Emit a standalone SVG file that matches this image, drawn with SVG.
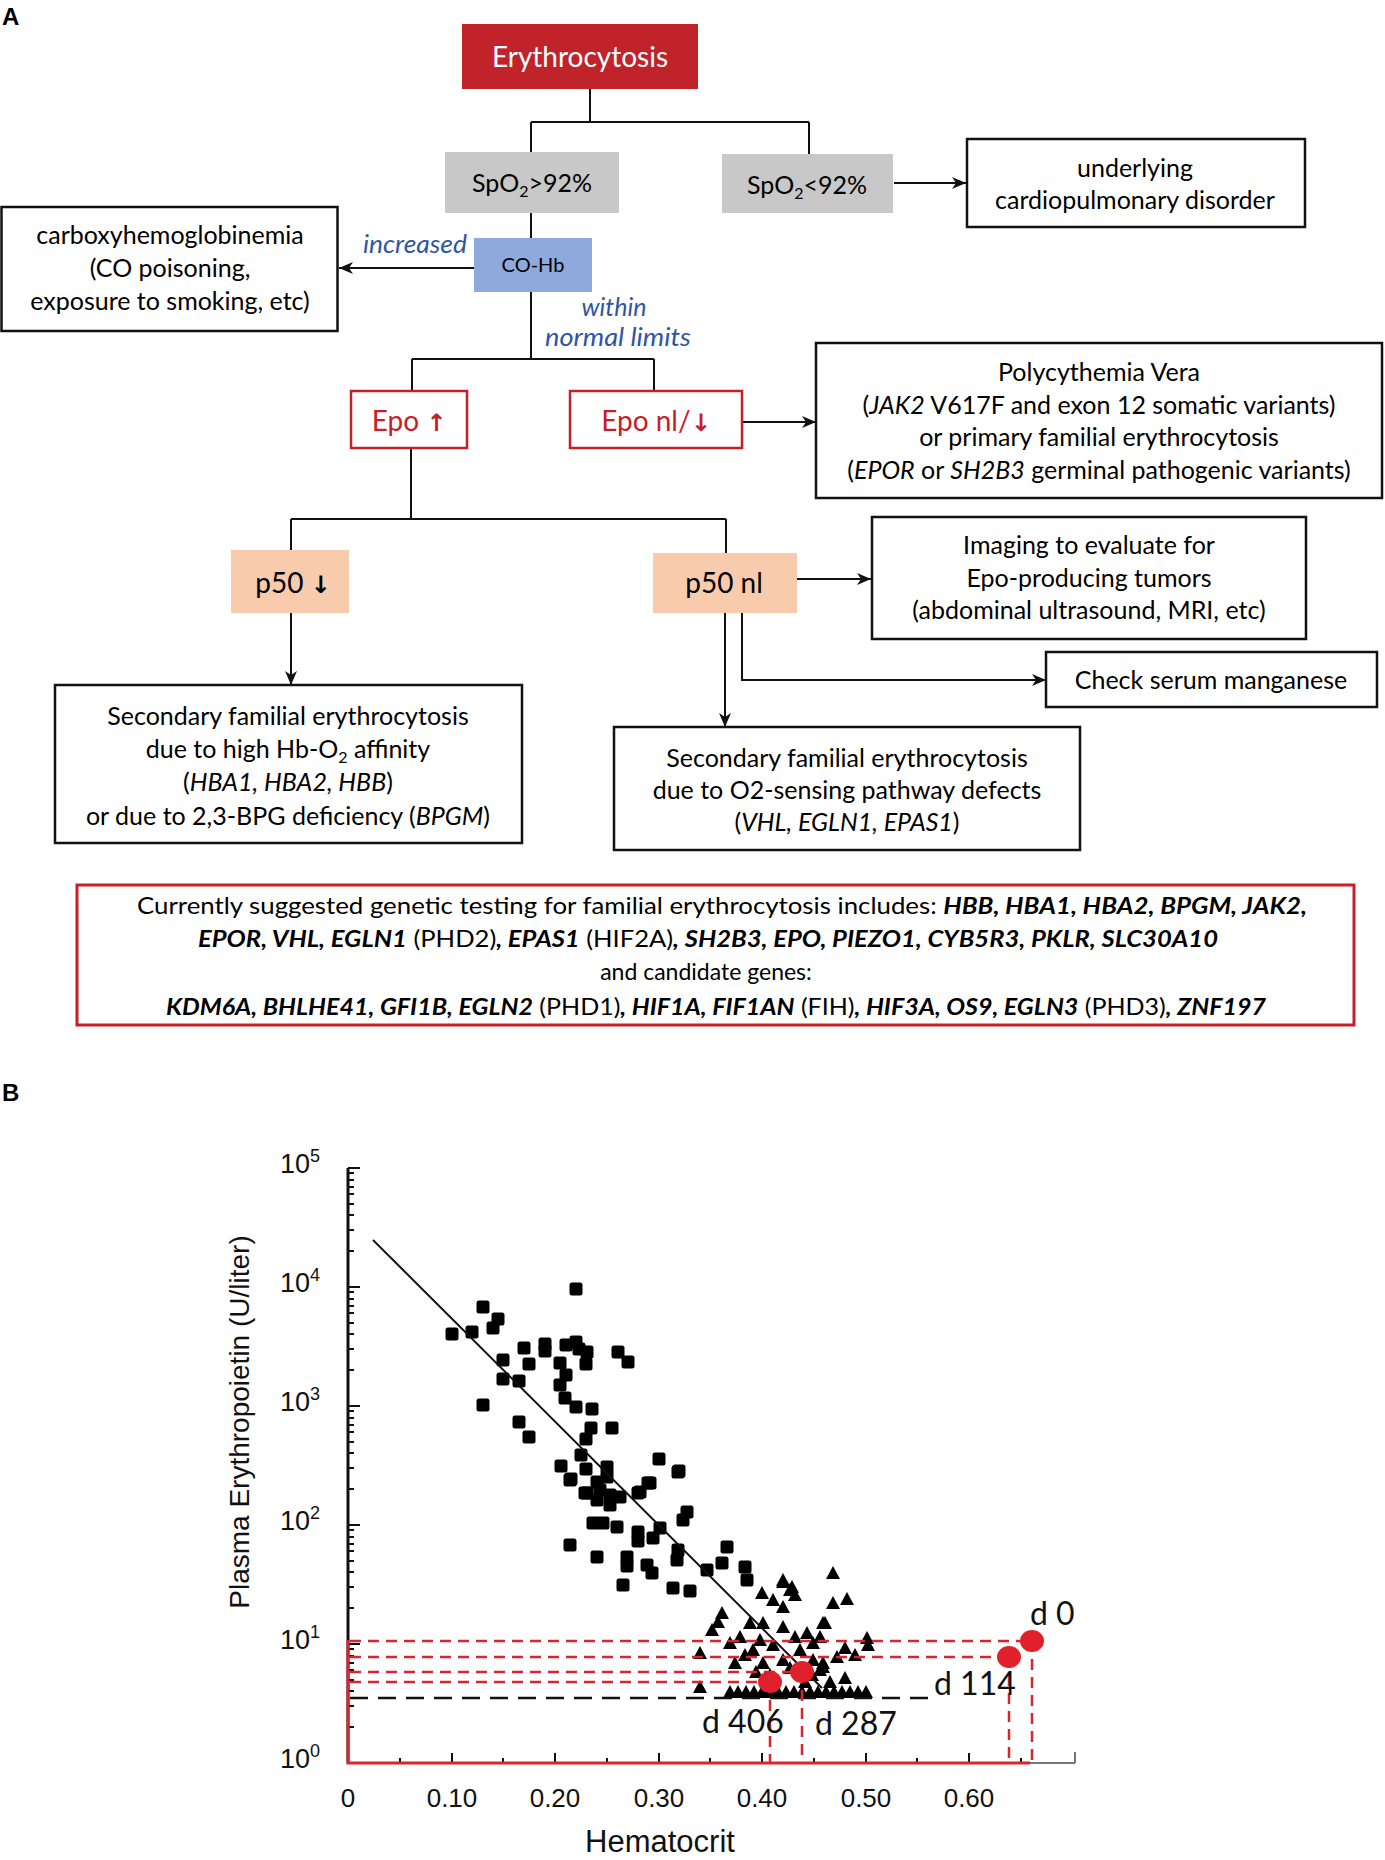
<svg xmlns="http://www.w3.org/2000/svg" xmlns:xlink="http://www.w3.org/1999/xlink" width="1385" height="1860" viewBox="0 0 1385 1860">
<style>
.t{font-family:Lato,'Open Sans','Liberation Sans',sans-serif;font-size:25px;text-anchor:middle;fill:#000}
.i{font-style:italic}
.bi{font-style:italic;font-weight:bold}
.box{fill:#fff;stroke:#111;stroke-width:2.5}
.rbox{fill:#fff;stroke:#C5202A;stroke-width:2.5}
.con{fill:none;stroke:#111;stroke-width:2}
.lab{font-family:Lato,'Open Sans','Liberation Sans',sans-serif;font-style:italic;font-size:25px;fill:#2F55A4;text-anchor:middle}
.ax{font-family:'Liberation Sans',Arial,sans-serif;fill:#111}
.rd{stroke:#D9262E;stroke-width:2.5;stroke-dasharray:11 7;fill:none}
.pl{font-family:Lato,'Open Sans','Liberation Sans',sans-serif;font-size:32px;fill:#111}
.hd{font-family:'Liberation Sans',Arial,sans-serif;font-weight:bold;font-size:24px;fill:#000}
.arr{font-family:'DejaVu Sans',sans-serif;font-weight:bold;font-size:24px}
</style>
<defs>
<marker id="ah" markerWidth="14" markerHeight="12" refX="14" refY="6" orient="auto" markerUnits="userSpaceOnUse"><path d="M0,0 L14,6 L0,12 L4,6 z" fill="#111"/></marker>
<rect id="sq" x="-6.5" y="-6.5" width="13" height="13" rx="2.5" fill="#000"/>
<path id="tr" d="M0,-7 L7,6 L-7,6 z" fill="#000"/>
</defs>
<rect width="1385" height="1860" fill="#fff"/>

<text class="hd" x="2" y="25">A</text>
<text class="hd" x="2" y="1101">B</text>

<g id="connectors">
<path class="con" d="M590,89 V122 M531,122 H809 M531,122 V152 M809,122 V154"/>
<path class="con" d="M894,183 H966" marker-end="url(#ah)"/>
<path class="con" d="M531,213 V238"/>
<path class="con" d="M474,268 H339" marker-end="url(#ah)"/>
<path class="con" d="M531,292 V359 M412,359 H654 M412,359 V391 M654,359 V391"/>
<path class="con" d="M742,422 H816" marker-end="url(#ah)"/>
<path class="con" d="M411,448 V519 M291,519 H726 M291,519 V550 M726,519 V553"/>
<path class="con" d="M291,613 V685" marker-end="url(#ah)"/>
<path class="con" d="M797,579 H871" marker-end="url(#ah)"/>
<path class="con" d="M742,613 V680 H1046" marker-end="url(#ah)"/>
<path class="con" d="M725,613 V727" marker-end="url(#ah)"/>
</g>

<g id="n-erythrocytosis">
<rect x="462" y="24" width="236" height="65" fill="#C1232B"/>
<text class="t" x="580" y="67" style="font-size:28px;fill:#fff">Erythrocytosis</text>
</g>
<g id="n-spo2-high">
<rect x="445" y="152" width="174" height="61" fill="#C8C8C8"/>
<text class="t" x="532" y="192" style="font-size:25px">SpO<tspan font-size="16" dy="5">2</tspan><tspan dy="-5">&gt;92%</tspan></text>
</g>
<g id="n-spo2-low">
<rect x="722" y="154" width="171" height="59" fill="#C8C8C8"/>
<text class="t" x="807" y="194" style="font-size:25px">SpO<tspan font-size="16" dy="5">2</tspan><tspan dy="-5">&lt;92%</tspan></text>
</g>
<g id="n-cardio">
<rect class="box" x="967" y="139" width="338" height="88"/>
<text class="t" x="1135" y="177">underlying</text>
<text class="t" x="1135" y="209">cardiopulmonary disorder</text>
</g>
<g id="n-cohb">
<rect x="474" y="238" width="118" height="54" fill="#8EAADC"/>
<text class="t" x="533" y="272" style="font-size:20px">CO-Hb</text>
</g>
<g id="n-carboxy">
<rect class="box" x="1.5" y="207" width="336" height="124"/>
<text class="t" x="170" y="244">carboxyhemoglobinemia</text>
<text class="t" x="170" y="277">(CO poisoning,</text>
<text class="t" x="170" y="310">exposure to smoking, etc)</text>
</g>
<text class="lab" x="415" y="253" textLength="104" lengthAdjust="spacingAndGlyphs">increased</text>
<text class="lab" x="614" y="316">within</text>
<text class="lab" x="618" y="346" textLength="146" lengthAdjust="spacingAndGlyphs">normal limits</text>
<g id="n-epo-up">
<rect class="rbox" x="351" y="391" width="116" height="57"/>
<text class="t" x="409" y="431" style="font-size:28px;fill:#C5202A">Epo <tspan class="arr">↑</tspan></text>
</g>
<g id="n-epo-nl">
<rect class="rbox" x="570" y="391" width="172" height="57"/>
<text class="t" x="656" y="431" style="font-size:28px;fill:#C5202A">Epo nl/<tspan class="arr">↓</tspan></text>
</g>
<g id="n-pv">
<rect class="box" x="816" y="343" width="566" height="155"/>
<text class="t" x="1099" y="381">Polycythemia Vera</text>
<text class="t" x="1099" y="414">(<tspan class="i">JAK2</tspan> V617F and exon 12 somatic variants)</text>
<text class="t" x="1099" y="446">or primary familial erythrocytosis</text>
<text class="t" x="1099" y="479">(<tspan class="i">EPOR</tspan> or <tspan class="i">SH2B3</tspan> germinal pathogenic variants)</text>
</g>
<g id="n-p50-low">
<rect x="231" y="550" width="118" height="63" fill="#F8CBAD"/>
<text class="t" x="293" y="593" style="font-size:28px">p50 <tspan class="arr">↓</tspan></text>
</g>
<g id="n-p50-nl">
<rect x="653" y="553" width="144" height="60" fill="#F8CBAD"/>
<text class="t" x="724" y="593" style="font-size:28px">p50 nl</text>
</g>
<g id="n-imaging">
<rect class="box" x="872" y="517" width="434" height="122"/>
<text class="t" x="1089" y="554">Imaging to evaluate for</text>
<text class="t" x="1089" y="587">Epo-producing tumors</text>
<text class="t" x="1089" y="619">(abdominal ultrasound, MRI, etc)</text>
</g>
<g id="n-manganese">
<rect class="box" x="1046" y="652" width="331" height="55"/>
<text class="t" x="1211" y="689">Check serum manganese</text>
</g>
<g id="n-hb-affinity">
<rect class="box" x="55" y="685" width="467" height="158"/>
<text class="t" x="288" y="725">Secondary familial erythrocytosis</text>
<text class="t" x="288" y="758">due to high Hb-O<tspan font-size="16" dy="5">2</tspan><tspan dy="-5"> affinity</tspan></text>
<text class="t" x="288" y="791">(<tspan class="i">HBA1, HBA2, HBB</tspan>)</text>
<text class="t" x="288" y="825">or due to 2,3-BPG deficiency (<tspan class="i">BPGM</tspan>)</text>
</g>
<g id="n-o2-sensing">
<rect class="box" x="614" y="727" width="466" height="123"/>
<text class="t" x="847" y="767">Secondary familial erythrocytosis</text>
<text class="t" x="847" y="799">due to O2-sensing pathway defects</text>
<text class="t" x="847" y="831">(<tspan class="i">VHL, EGLN1, EPAS1</tspan>)</text>
</g>
<g id="n-genetic">
<rect x="77" y="885" width="1277" height="140" fill="#fff" stroke="#C5202A" stroke-width="3"/>
<text class="t" x="722" y="914" style="font-size:23px" textLength="1170" lengthAdjust="spacingAndGlyphs">Currently suggested genetic testing for familial erythrocytosis includes: <tspan class="bi">HBB, HBA1, HBA2, BPGM, JAK2,</tspan></text>
<text class="t" x="708" y="947" style="font-size:23px" textLength="1020" lengthAdjust="spacingAndGlyphs"><tspan class="bi">EPOR, VHL, EGLN1</tspan> (PHD2)<tspan class="bi">, EPAS1</tspan> (HIF2A)<tspan class="bi">, SH2B3, EPO, PIEZO1, CYB5R3, PKLR, SLC30A10</tspan></text>
<text class="t" x="706" y="980" style="font-size:23px">and candidate genes:</text>
<text class="t" x="716" y="1015" style="font-size:23px" textLength="1100" lengthAdjust="spacingAndGlyphs"><tspan class="bi">KDM6A, BHLHE41, GFI1B, EGLN2</tspan> (PHD1)<tspan class="bi">, HIF1A, FIF1AN</tspan> (FIH)<tspan class="bi">, HIF3A, OS9, EGLN3</tspan> (PHD3)<tspan class="bi">, ZNF197</tspan></text>
</g>

<!-- Panel B plot -->
<g id="plot-axes">
<line x1="348" y1="1168" x2="348" y2="1763" stroke="#111" stroke-width="3"/>
<line x1="348" y1="1763" x2="1075" y2="1763" stroke="#777" stroke-width="2"/>
<line x1="1075" y1="1763" x2="1075" y2="1752" stroke="#777" stroke-width="2"/>
<path stroke="#111" stroke-width="2" fill="none" d="M348,1168h12M348,1287h12M348,1406h12M348,1525h12M348,1644h12
M348,1727h6M348,1706h6M348,1691h6M348,1680h6M348,1670h6M348,1663h6M348,1656h6M348,1649h6
M348,1608h6M348,1587h6M348,1572h6M348,1561h6M348,1551h6M348,1544h6M348,1537h6M348,1530h6
M348,1489h6M348,1468h6M348,1453h6M348,1442h6M348,1432h6M348,1425h6M348,1418h6M348,1411h6
M348,1370h6M348,1349h6M348,1334h6M348,1323h6M348,1313h6M348,1306h6M348,1299h6M348,1292h6
M348,1251h6M348,1230h6M348,1215h6M348,1204h6M348,1194h6M348,1187h6M348,1180h6M348,1173h6"/>
<path stroke="#111" stroke-width="2" fill="none" d="M400,1763v-5M452,1763v-10M503,1763v-5M555,1763v-10M607,1763v-5M659,1763v-10M710,1763v-5M762,1763v-10M814,1763v-5M866,1763v-10M917,1763v-5M969,1763v-10M1021,1763v-5"/>
<g class="ax" font-size="27" text-anchor="end">
<text x="320" y="1173">10<tspan font-size="18" dy="-11">5</tspan></text>
<text x="320" y="1292">10<tspan font-size="18" dy="-11">4</tspan></text>
<text x="320" y="1411">10<tspan font-size="18" dy="-11">3</tspan></text>
<text x="320" y="1530">10<tspan font-size="18" dy="-11">2</tspan></text>
<text x="320" y="1649">10<tspan font-size="18" dy="-11">1</tspan></text>
<text x="320" y="1768">10<tspan font-size="18" dy="-11">0</tspan></text>
</g>
<g class="ax" font-size="26" text-anchor="middle">
<text x="348" y="1807">0</text>
<text x="452" y="1807">0.10</text>
<text x="555" y="1807">0.20</text>
<text x="659" y="1807">0.30</text>
<text x="762" y="1807">0.40</text>
<text x="866" y="1807">0.50</text>
<text x="969" y="1807">0.60</text>
</g>
<text class="ax" x="660" y="1852" font-size="31" text-anchor="middle">Hematocrit</text>
<text class="ax" font-size="28" text-anchor="middle" transform="translate(249,1422) rotate(-90)">Plasma Erythropoietin (U/liter)</text>
</g>

<g id="plot-data">
<g>
<use xlink:href="#sq" x="576" y="1289"/><use xlink:href="#sq" x="483" y="1307"/><use xlink:href="#sq" x="498" y="1319"/><use xlink:href="#sq" x="493" y="1328"/>
<use xlink:href="#sq" x="452" y="1334"/><use xlink:href="#sq" x="472" y="1332"/><use xlink:href="#sq" x="524" y="1348"/><use xlink:href="#sq" x="545" y="1344"/>
<use xlink:href="#sq" x="545" y="1351"/><use xlink:href="#sq" x="566" y="1345"/><use xlink:href="#sq" x="576" y="1342"/><use xlink:href="#sq" x="579" y="1349"/>
<use xlink:href="#sq" x="587" y="1352"/><use xlink:href="#sq" x="618" y="1352"/><use xlink:href="#sq" x="628" y="1362"/><use xlink:href="#sq" x="503" y="1360"/>
<use xlink:href="#sq" x="529" y="1364"/><use xlink:href="#sq" x="560" y="1363"/><use xlink:href="#sq" x="586" y="1364"/><use xlink:href="#sq" x="566" y="1375"/>
<use xlink:href="#sq" x="503" y="1379"/><use xlink:href="#sq" x="519" y="1381"/><use xlink:href="#sq" x="560" y="1385"/><use xlink:href="#sq" x="565" y="1398"/>
<use xlink:href="#sq" x="576" y="1407"/><use xlink:href="#sq" x="592" y="1409"/><use xlink:href="#sq" x="483" y="1405"/><use xlink:href="#sq" x="519" y="1422"/>
<use xlink:href="#sq" x="529" y="1437"/><use xlink:href="#sq" x="591" y="1428"/><use xlink:href="#sq" x="612" y="1428"/><use xlink:href="#sq" x="586" y="1439"/>
<use xlink:href="#sq" x="581" y="1455"/><use xlink:href="#sq" x="561" y="1466"/><use xlink:href="#sq" x="571" y="1479"/><use xlink:href="#sq" x="586" y="1469"/>
<use xlink:href="#sq" x="607" y="1467"/><use xlink:href="#sq" x="607" y="1477"/><use xlink:href="#sq" x="597" y="1482"/><use xlink:href="#sq" x="659" y="1459"/>
<use xlink:href="#sq" x="679" y="1471"/><use xlink:href="#sq" x="648" y="1483"/><use xlink:href="#sq" x="638" y="1493"/><use xlink:href="#sq" x="587" y="1493"/>
<use xlink:href="#sq" x="610" y="1495"/><use xlink:href="#sq" x="570" y="1545"/><use xlink:href="#sq" x="597" y="1557"/><use xlink:href="#sq" x="623" y="1585"/>
<use xlink:href="#sq" x="673" y="1588"/><use xlink:href="#sq" x="690" y="1591"/><use xlink:href="#sq" x="627" y="1557"/><use xlink:href="#sq" x="627" y="1566"/>
<use xlink:href="#sq" x="647" y="1565"/><use xlink:href="#sq" x="652" y="1573"/><use xlink:href="#sq" x="638" y="1532"/><use xlink:href="#sq" x="638" y="1541"/>
<use xlink:href="#sq" x="593" y="1523"/><use xlink:href="#sq" x="603" y="1523"/><use xlink:href="#sq" x="617" y="1527"/><use xlink:href="#sq" x="660" y="1528"/>
<use xlink:href="#sq" x="678" y="1550"/><use xlink:href="#sq" x="677" y="1560"/><use xlink:href="#sq" x="707" y="1570"/><use xlink:href="#sq" x="722" y="1563"/>
<use xlink:href="#sq" x="727" y="1547"/><use xlink:href="#sq" x="745" y="1567"/><use xlink:href="#sq" x="747" y="1580"/><use xlink:href="#sq" x="687" y="1512"/>
<use xlink:href="#sq" x="683" y="1520"/><use xlink:href="#sq" x="678" y="1472"/><use xlink:href="#sq" x="650" y="1483"/><use xlink:href="#sq" x="640" y="1492"/>
<use xlink:href="#sq" x="570" y="1480"/><use xlink:href="#sq" x="585" y="1493"/><use xlink:href="#sq" x="597" y="1500"/><use xlink:href="#sq" x="610" y="1505"/>
<use xlink:href="#sq" x="620" y="1497"/><use xlink:href="#sq" x="653" y="1538"/><use xlink:href="#sq" x="600" y="1490"/>
</g>
<g>
<use xlink:href="#tr" x="722" y="1613"/><use xlink:href="#tr" x="712" y="1630"/><use xlink:href="#tr" x="718" y="1622"/><use xlink:href="#tr" x="700" y="1653"/>
<use xlink:href="#tr" x="700" y="1687"/><use xlink:href="#tr" x="762" y="1593"/><use xlink:href="#tr" x="773" y="1600"/><use xlink:href="#tr" x="783" y="1607"/>
<use xlink:href="#tr" x="783" y="1582"/><use xlink:href="#tr" x="792" y="1587"/><use xlink:href="#tr" x="795" y="1595"/><use xlink:href="#tr" x="833" y="1573"/>
<use xlink:href="#tr" x="833" y="1603"/><use xlink:href="#tr" x="750" y="1623"/><use xlink:href="#tr" x="763" y="1623"/><use xlink:href="#tr" x="783" y="1627"/>
<use xlink:href="#tr" x="807" y="1633"/><use xlink:href="#tr" x="825" y="1623"/><use xlink:href="#tr" x="740" y="1637"/><use xlink:href="#tr" x="730" y="1643"/>
<use xlink:href="#tr" x="753" y="1650"/><use xlink:href="#tr" x="773" y="1645"/><use xlink:href="#tr" x="795" y="1637"/><use xlink:href="#tr" x="813" y="1643"/>
<use xlink:href="#tr" x="763" y="1663"/><use xlink:href="#tr" x="783" y="1660"/><use xlink:href="#tr" x="823" y="1663"/><use xlink:href="#tr" x="820" y="1670"/>
<use xlink:href="#tr" x="837" y="1657"/><use xlink:href="#tr" x="847" y="1599"/><use xlink:href="#tr" x="823" y="1623"/><use xlink:href="#tr" x="820" y="1637"/>
<use xlink:href="#tr" x="867" y="1638"/><use xlink:href="#tr" x="868" y="1645"/><use xlink:href="#tr" x="845" y="1648"/><use xlink:href="#tr" x="855" y="1655"/>
<use xlink:href="#tr" x="845" y="1678"/><use xlink:href="#tr" x="823" y="1667"/><use xlink:href="#tr" x="813" y="1660"/><use xlink:href="#tr" x="783" y="1580"/>
<use xlink:href="#tr" x="790" y="1590"/><use xlink:href="#tr" x="760" y="1640"/><use xlink:href="#tr" x="745" y="1655"/><use xlink:href="#tr" x="770" y="1675"/>
<use xlink:href="#tr" x="790" y="1668"/><use xlink:href="#tr" x="800" y="1650"/><use xlink:href="#tr" x="756" y="1672"/><use xlink:href="#tr" x="735" y="1663"/>
<use xlink:href="#tr" x="805" y="1682"/><use xlink:href="#tr" x="830" y="1682"/><use xlink:href="#tr" x="812" y="1675"/>
<use xlink:href="#tr" x="730" y="1692"/><use xlink:href="#tr" x="738" y="1692"/><use xlink:href="#tr" x="746" y="1692"/><use xlink:href="#tr" x="754" y="1692"/>
<use xlink:href="#tr" x="762" y="1692"/><use xlink:href="#tr" x="770" y="1692"/><use xlink:href="#tr" x="778" y="1692"/><use xlink:href="#tr" x="786" y="1692"/>
<use xlink:href="#tr" x="794" y="1692"/><use xlink:href="#tr" x="802" y="1692"/><use xlink:href="#tr" x="810" y="1692"/><use xlink:href="#tr" x="818" y="1692"/>
<use xlink:href="#tr" x="826" y="1692"/><use xlink:href="#tr" x="834" y="1692"/><use xlink:href="#tr" x="842" y="1692"/><use xlink:href="#tr" x="850" y="1692"/>
<use xlink:href="#tr" x="858" y="1692"/><use xlink:href="#tr" x="866" y="1692"/>
</g>
<line x1="373" y1="1240" x2="822" y2="1688" stroke="#111" stroke-width="2"/>
<line x1="350" y1="1698" x2="933" y2="1698" stroke="#111" stroke-width="2.5" stroke-dasharray="18 10"/>
</g>

<g id="plot-followup">
<path d="M348,1640 V1763 H1030" stroke="#D9262E" stroke-width="3" fill="none"/>
<path class="rd" d="M350,1641 H1032 M350,1657 H1009 M350,1672 H802 M350,1682 H770"/>
<path class="rd" d="M1032,1641 V1763 M1009,1657 V1763 M802,1672 V1763 M770,1682 V1763"/>
<ellipse cx="1032" cy="1641" rx="12" ry="11" fill="#E0212B"/>
<ellipse cx="1009" cy="1657" rx="12" ry="11" fill="#E0212B"/>
<ellipse cx="802" cy="1672" rx="12" ry="11" fill="#E0212B"/>
<ellipse cx="770" cy="1682" rx="12" ry="11" fill="#E0212B"/>
<text class="pl" x="1030" y="1625">d 0</text>
<text class="pl" x="934" y="1695">d 114</text>
<text class="pl" x="815" y="1735">d 287</text>
<text class="pl" x="702" y="1733">d 406</text>
</g>
</svg>
